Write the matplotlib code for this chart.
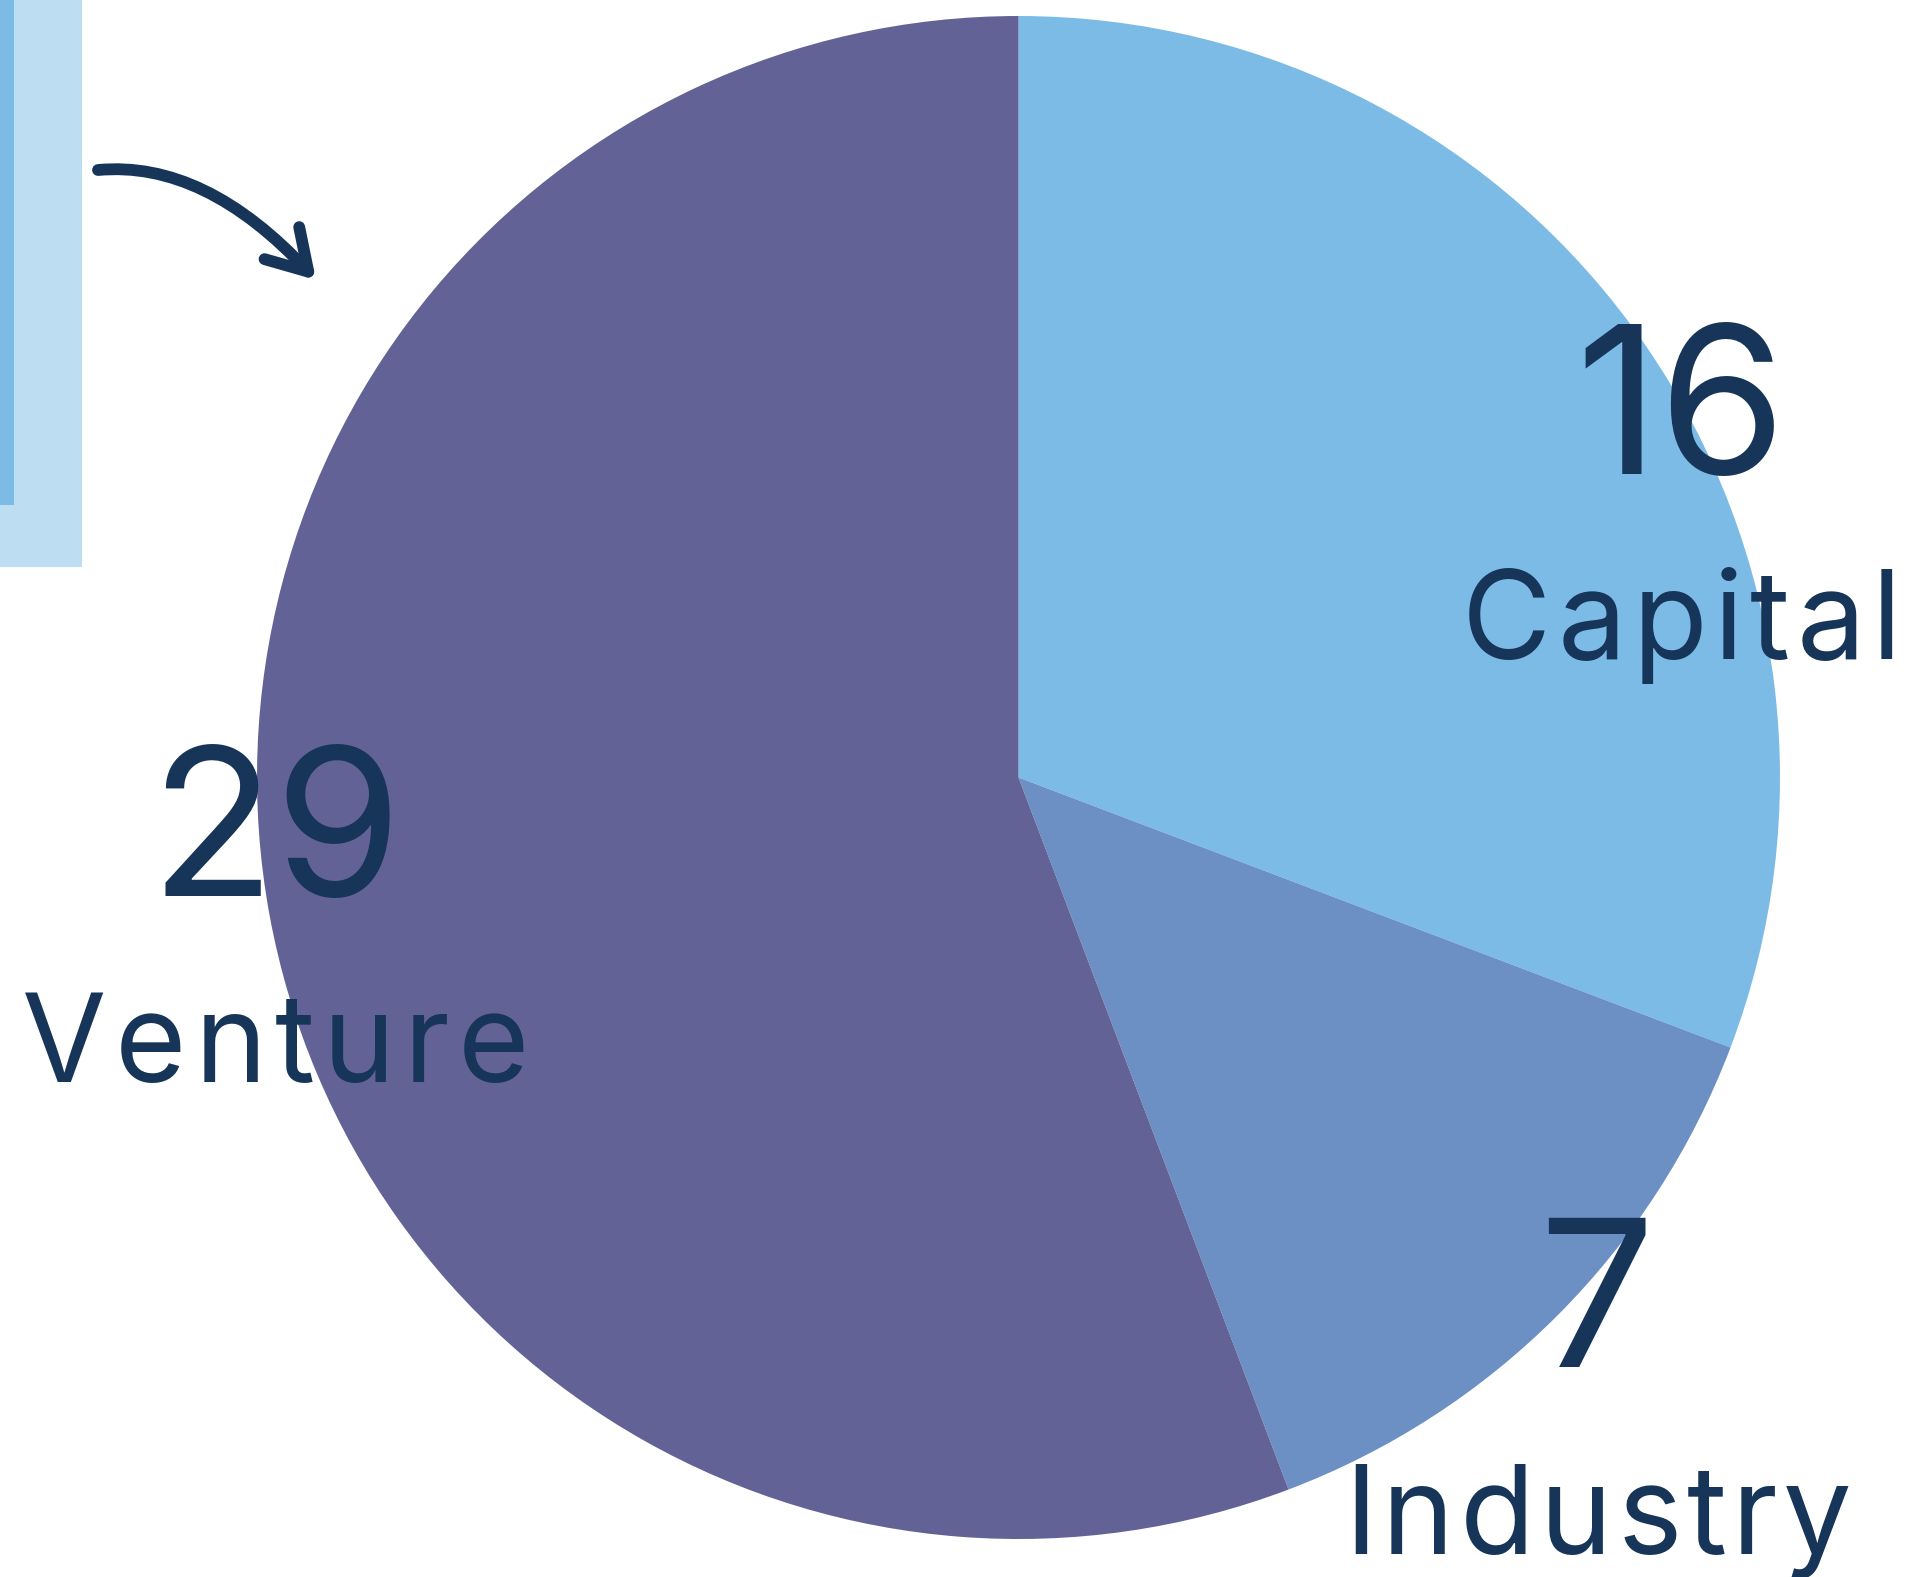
import matplotlib.pyplot as plt
from matplotlib.patches import Rectangle, FancyArrowPatch
from matplotlib.path import Path

# data
labels = ['Capital', 'Industry', 'Venture']
values = [16, 7, 29]
colors = ['#7BBBE6', '#6C8FC4', '#636296']
navy = '#163559'

W, H = 1921, 1577
fig = plt.figure(figsize=(W / 100, H / 100), dpi=100)
ax = fig.add_axes([0, 0, 1, 1])

# decoration bars top left
ax.add_patch(Rectangle((0, H - 567), 82, 567, color='#BDDDF3', lw=0))
ax.add_patch(Rectangle((0, H - 505), 13.5, 505, color='#7BBBE6', lw=0))

ax.pie(values, colors=colors, startangle=90, counterclock=False,
       center=(1018.5, H - 777.5), radius=761.5, frame=True,
       wedgeprops=dict(linewidth=0))
ax.set_xlim(0, W)
ax.set_ylim(0, H)
ax.axis('off')

# curved arrow
verts = [(98, H - 170), (205, H - 160), (316, H - 280)]
arrow_path = Path(verts, [Path.MOVETO, Path.CURVE3, Path.CURVE3])
ax.add_patch(FancyArrowPatch(path=arrow_path, arrowstyle='->,head_length=28,head_width=17',
                             mutation_scale=1, color=navy, lw=8.5,
                             capstyle='round', joinstyle='round'))

renderer = fig.canvas.get_renderer()
fam = ['Inter', 'DejaVu Sans']


def spaced(x0, x1, y, s, size):
    # lay characters out one by one so the word fills x0..x1 (pixels)
    arts = [ax.text(0, y, c, fontsize=size, color=navy, ha='left', va='baseline',
                    family=fam) for c in s]
    widths = [a.get_window_extent(renderer).width for a in arts]
    gap = (x1 - x0 - sum(widths)) / max(len(s) - 1, 1)
    x = x0
    for a, w in zip(arts, widths):
        a.set_x(x)
        x += w + gap


# label boxes: number centre and baseline, name x-range and baseline (pixels)
label_pos = {'Capital': ((1681, 474), (1462, 1901, 659)),
             'Industry': ((1596, 1367), (1344, 1852, 1554)),
             'Venture': ((276, 896), (22, 529, 1082))}
for lab, val in zip(labels, values):
    (nx, ny), (lx0, lx1, ly) = label_pos[lab]
    ax.text(nx, H - ny, str(val), fontsize=148, color=navy,
            ha='center', va='baseline', family=fam)
    spaced(lx0, lx1, H - ly, lab, 88)

fig.savefig('out.png', dpi=100)
